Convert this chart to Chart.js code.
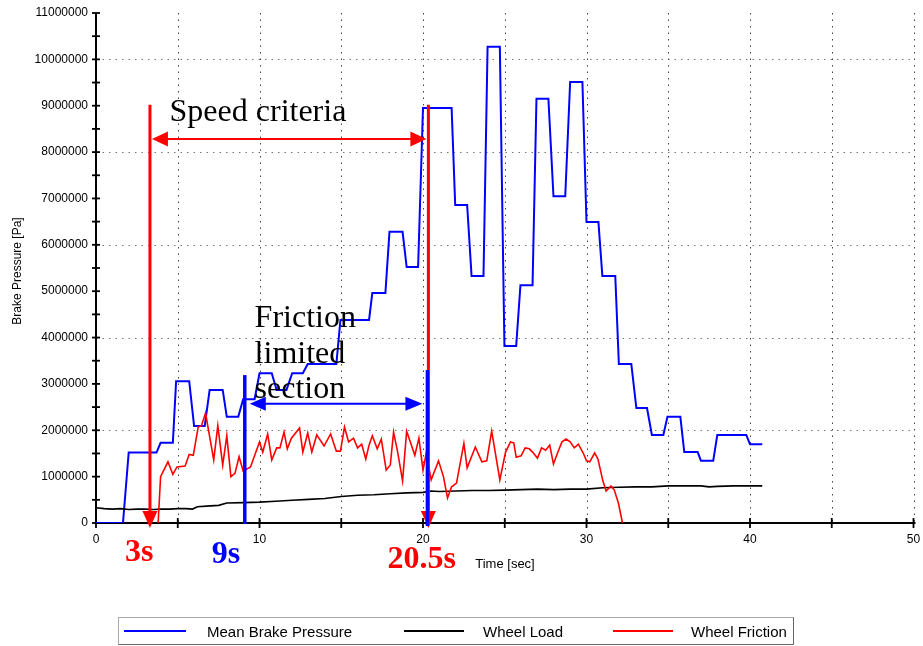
<!DOCTYPE html>
<html><head><meta charset="utf-8">
<script src="https://cdn.jsdelivr.net/npm/chart.js@4"></script>
<style>html,body{margin:0;padding:0;background:#fff}#wrap{width:923px;height:646px;position:relative}canvas{display:block}</style>
</head><body><div id="wrap"><canvas id="c" width="923" height="646"></canvas></div>
<script>
// ---- data (time in s, values in Pa / N) ----
const brakeTime = [0,1.65,2.0,3.7,3.95,4.7,4.9,5.7,6.0,6.65,6.95,7.75,8.0,8.7,9.0,9.7,10.0,10.75,11.05,11.65,12.0,12.65,12.95,14.7,14.95,16.7,16.9,17.7,17.95,18.75,19.0,19.7,20.0,21.75,21.97,22.7,22.97,23.7,23.95,24.7,24.98,25.7,25.96,26.7,26.94,27.67,27.98,28.7,29.0,29.75,30.0,30.73,30.97,31.76,31.98,32.74,33.05,33.7,34.0,34.7,34.95,35.74,35.98,36.8,37.0,37.75,38.0,39.77,40.0,40.75];
const brakePressure = [0,0,1520000,1520000,1730000,1730000,3060000,3060000,2090000,2090000,2870000,2870000,2290000,2290000,2670000,2670000,3230000,3230000,2870000,2870000,3230000,3230000,3430000,3430000,4380000,4380000,4960000,4960000,6280000,6280000,5520000,5520000,8950000,8950000,6860000,6860000,5330000,5330000,10270000,10270000,3820000,3820000,5130000,5130000,9150000,9150000,7050000,7050000,9510000,9510000,6490000,6490000,5330000,5330000,3430000,3430000,2480000,2480000,1900000,1900000,2290000,2290000,1530000,1530000,1340000,1340000,1900000,1900000,1700000,1700000];

const loadTime = [0,0.5,1,1.5,2,2.5,3,3.5,4,4.5,5,5.5,5.9,6.2,7,7.5,8,9,10,11,12,13,14,15,16,17,18,19,20,20.5,21,22,23,24,25,26,27,28,29,30,31,32,33,34,35,36,37,37.5,38,39,40,40.75];
const wheelLoad = [330000,310000,300000,310000,290000,300000,300000,290000,300000,300000,310000,310000,300000,350000,370000,380000,430000,440000,450000,470000,490000,510000,530000,570000,600000,610000,630000,650000,660000,690000,680000,690000,700000,700000,710000,720000,730000,720000,730000,730000,760000,770000,780000,780000,800000,800000,800000,780000,790000,800000,800000,800000];

const frictionTime = [3.8,3.95,4.4,4.7,4.95,5.45,5.7,5.95,6.25,6.45,6.7,7.2,7.45,7.75,8.0,8.25,8.5,8.75,9.0,9.45,10.0,10.2,10.5,10.75,11.05,11.25,11.5,11.7,11.95,12.45,12.65,12.95,13.2,13.5,13.95,14.35,14.7,14.95,15.2,15.45,15.75,16.0,16.25,16.5,16.7,16.9,17.2,17.45,17.75,18.0,18.2,18.45,18.75,19.0,19.5,19.75,20.0,20.2,20.5,20.95,21.25,21.5,21.75,22.05,22.5,22.7,23.2,23.6,23.9,24.2,24.7,25.05,25.35,25.55,25.7,26.0,26.25,26.5,26.7,27.0,27.25,27.5,27.75,27.98,28.25,28.5,28.75,29.0,29.25,29.5,29.8,30.0,30.2,30.5,30.7,31.0,31.2,31.5,31.7,31.95,32.2];
const wheelFriction = [0,1000000,1320000,1050000,1210000,1230000,1480000,1460000,2070000,2100000,2370000,1360000,2100000,1250000,1880000,1000000,1070000,1430000,1120000,1210000,1750000,1530000,1920000,1360000,1620000,1620000,1960000,1600000,1830000,2050000,1530000,1940000,1530000,1900000,1660000,1920000,1550000,1550000,2070000,1750000,1830000,1620000,1700000,1380000,1680000,1880000,1600000,1810000,1140000,1250000,1960000,1530000,910000,1980000,1460000,1830000,1140000,1510000,930000,1340000,1000000,540000,780000,860000,1720000,1190000,1640000,1320000,1340000,1980000,930000,1530000,1750000,1730000,1420000,1450000,1620000,1600000,1530000,1400000,1620000,1570000,1680000,1270000,1530000,1750000,1810000,1750000,1620000,1700000,1510000,1340000,1320000,1510000,1380000,910000,690000,800000,710000,430000,0];

const seriesNames = ['Mean Brake Pressure','Wheel Load','Wheel Friction'];
const seriesColors = ['#0000ff','#000000','#ff0000'];
const xMin = 0, xMax = 50, xLabelStep = 10, xTickStep = 5;
const yMin = 0, yMax = 11000000, yLabelStep = 1000000, yTickStep = 500000, yGridStep = 2000000;
const xTitle = 'Time [sec]', yTitle = 'Brake Pressure [Pa]';

// annotation markers (data coords)
const speedStart = 3.3, speedEnd = 20.33, speedTop = 9020000, speedArrowY = 8280000;
const fricStart = 9.1, fricEnd = 20.27, fricTop1 = 3190000, fricTop2 = 3300000, fricArrowY = 2570000;
const timeMarks = [{t: 3.3, text: '3s', color: '#ff0000', dx: -25, base: 561}, {t: 9.1, text: '9s', color: '#0000ff', dx: -33, base: 563}, {t: 20.33, text: '20.5s', color: '#ff0000', dx: -41, base: 568}];

const pts = (xs, ys) => xs.map((x, i) => ({x: x, y: ys[i]}));

const SANS = '"Liberation Sans", Arial, sans-serif';
const SERIF = '"Liberation Serif", "Times New Roman", serif';

function arrowHead(ctx, x, y, dir, len, half, color) {
  ctx.save();
  ctx.fillStyle = color;
  ctx.beginPath();
  if (dir === 'left') { ctx.moveTo(x, y); ctx.lineTo(x + len, y - half); ctx.lineTo(x + len, y + half); }
  else if (dir === 'right') { ctx.moveTo(x, y); ctx.lineTo(x - len, y - half); ctx.lineTo(x - len, y + half); }
  else if (dir === 'down') { ctx.moveTo(x, y); ctx.lineTo(x - half, y - len); ctx.lineTo(x + half, y - len); }
  ctx.closePath(); ctx.fill(); ctx.restore();
}
function line(ctx, x1, y1, x2, y2, color, w) {
  ctx.save(); ctx.strokeStyle = color; ctx.lineWidth = w; ctx.beginPath(); ctx.moveTo(x1, y1); ctx.lineTo(x2, y2); ctx.stroke(); ctx.restore();
}

const decor = {
  id: 'decor',
  beforeDatasetsDraw(chart) {
    const {ctx, chartArea: a, scales: {x, y}} = chart;
    ctx.save();
    // dotted grid
    ctx.lineWidth = 1;
    ctx.strokeStyle = '#777';
    ctx.setLineDash([1.5, 5]);
    for (let v = yGridStep; v < yMax; v += yGridStep) {
      const py = Math.round(y.getPixelForValue(v)) + 0.5;
      ctx.beginPath(); ctx.moveTo(a.left, py); ctx.lineTo(a.right, py); ctx.stroke();
    }
    ctx.strokeStyle = '#444';
    for (let t = xTickStep; t <= xMax; t += xTickStep) {
      const px = Math.round(x.getPixelForValue(t)) + 0.5;
      ctx.beginPath(); ctx.moveTo(px, a.top); ctx.lineTo(px, a.bottom); ctx.stroke();
    }
    ctx.setLineDash([]);
    // axes
    ctx.strokeStyle = '#000';
    ctx.lineWidth = 2;
    ctx.beginPath(); ctx.moveTo(a.left, a.top); ctx.lineTo(a.left, a.bottom + 1); ctx.stroke();
    ctx.beginPath(); ctx.moveTo(a.left - 1, a.bottom); ctx.lineTo(a.right + 2, a.bottom); ctx.stroke();
    ctx.lineWidth = 1.8;
    for (let v = yMin; v <= yMax; v += yTickStep) {
      const py = y.getPixelForValue(v);
      ctx.beginPath(); ctx.moveTo(a.left - 4, py); ctx.lineTo(a.left + 4, py); ctx.stroke();
    }
    for (let t = xMin; t <= xMax; t += xTickStep) {
      const px = x.getPixelForValue(t);
      ctx.beginPath(); ctx.moveTo(px, a.bottom - 5); ctx.lineTo(px, a.bottom + 5); ctx.stroke();
    }
    ctx.restore();
  },
  afterDatasetsDraw(chart) {
    const {ctx, chartArea: a, scales: {x, y}} = chart;
    const red = '#ff0000', blue = '#0000ff';
    const bottom = y.getPixelForValue(0);
    // speed criteria
    const rx1 = x.getPixelForValue(speedStart), rx2 = x.getPixelForValue(speedEnd), rtop = y.getPixelForValue(speedTop);
    line(ctx, rx1, rtop, rx1, bottom - 8, red, 3);
    line(ctx, rx2, rtop, rx2, bottom - 8, red, 3);
    arrowHead(ctx, rx1, bottom + 5, 'down', 17, 7.5, red);
    arrowHead(ctx, rx2, bottom + 5, 'down', 17, 7.5, red);
    const ry = y.getPixelForValue(speedArrowY);
    line(ctx, rx1 + 10, ry, rx2 - 10, ry, red, 2);
    arrowHead(ctx, rx1 + 2, ry, 'left', 16, 7.5, red);
    arrowHead(ctx, rx2 - 2, ry, 'right', 16, 7.5, red);
    // friction limited section
    const bx1 = x.getPixelForValue(fricStart), bx2 = x.getPixelForValue(fricEnd);
    line(ctx, bx1, y.getPixelForValue(fricTop1), bx1, bottom + 1, blue, 3.5);
    line(ctx, bx2, y.getPixelForValue(fricTop2), bx2, bottom + 3, blue, 3.5);
    const by = y.getPixelForValue(fricArrowY);
    line(ctx, bx1 + 10, by, bx2 - 12, by, blue, 2);
    arrowHead(ctx, bx1 + 5, by, 'left', 16, 7, blue);
    arrowHead(ctx, bx2 - 5, by, 'right', 17, 7, blue);
    // texts
    ctx.save();
    ctx.textBaseline = 'alphabetic';
    ctx.textAlign = 'left';
    ctx.fillStyle = '#000';
    ctx.font = '32px ' + SERIF;
    ctx.fillText('Speed criteria', x.getPixelForValue(4.5), y.getPixelForValue(8680000));
    const fx = x.getPixelForValue(9.7);
    ctx.fillText('Friction', fx, 327);
    ctx.fillText('limited', fx, 363);
    ctx.fillText('section', fx, 398);
    ctx.font = 'bold 32px ' + SERIF;
    timeMarks.forEach(m => { ctx.fillStyle = m.color; ctx.fillText(m.text, x.getPixelForValue(m.t) + m.dx, m.base); });
    // axis titles
    ctx.fillStyle = '#000';
    ctx.font = '13px ' + SANS;
    ctx.textAlign = 'center';
    ctx.fillText(xTitle, 505, 568);
    ctx.save();
    ctx.translate(21, 271); ctx.rotate(-Math.PI / 2);
    ctx.font = '12px ' + SANS;
    ctx.fillText(yTitle, 0, 0);
    ctx.restore();
    // legend
    ctx.strokeStyle = '#aaa'; ctx.lineWidth = 1;
    ctx.strokeRect(118.5, 617.5, 675, 27);
    ctx.strokeStyle = '#666';
    ctx.beginPath(); ctx.moveTo(793.5, 617.5); ctx.lineTo(793.5, 644.5); ctx.lineTo(118.5, 644.5); ctx.stroke();
    const items = [{x1: 124, x2: 186, tx: 207}, {x1: 404, x2: 464, tx: 483}, {x1: 613, x2: 673, tx: 691}];
    ctx.font = '15px ' + SANS; ctx.textAlign = 'left';
    items.forEach((it, i) => {
      line(ctx, it.x1, 631, it.x2, 631, seriesColors[i], 2);
      ctx.fillStyle = '#000';
      ctx.fillText(seriesNames[i], it.tx, 637);
    });
    ctx.restore();
  }
};

new Chart(document.getElementById('c'), {
  type: 'line',
  data: {
    datasets: [
      {label: seriesNames[0], data: pts(brakeTime, brakePressure), borderColor: seriesColors[0], borderWidth: 2, order: 2},
      {label: seriesNames[1], data: pts(loadTime, wheelLoad), borderColor: seriesColors[1], borderWidth: 1.6, order: 1},
      {label: seriesNames[2], data: pts(frictionTime, wheelFriction), borderColor: seriesColors[2], borderWidth: 1.6, order: 0}
    ]
  },
  options: {
    responsive: false,
    animation: false,
    layout: {padding: {left: 0, right: 9.5, top: 13, bottom: 0}},
    elements: {point: {radius: 0}, line: {tension: 0, fill: false}},
    plugins: {legend: {display: false}, tooltip: {enabled: false}},
    scales: {
      x: {
        type: 'linear', min: xMin, max: xMax,
        ticks: {stepSize: xLabelStep, color: '#000', font: {family: SANS, size: 12}, padding: 9, maxRotation: 0},
        grid: {display: false, drawTicks: false},
        border: {display: false},
        afterFit: s => { s.height = 123; s.paddingLeft = 0; s.paddingRight = 0; }
      },
      y: {
        min: yMin, max: yMax,
        ticks: {stepSize: yLabelStep, color: '#000', font: {family: SANS, size: 12}, padding: 8, callback: v => String(v)},
        grid: {display: false, drawTicks: false},
        border: {display: false},
        afterFit: s => { s.width = 96; s.paddingTop = 0; s.paddingBottom = 0; }
      }
    }
  },
  plugins: [decor]
});
</script></body></html>
